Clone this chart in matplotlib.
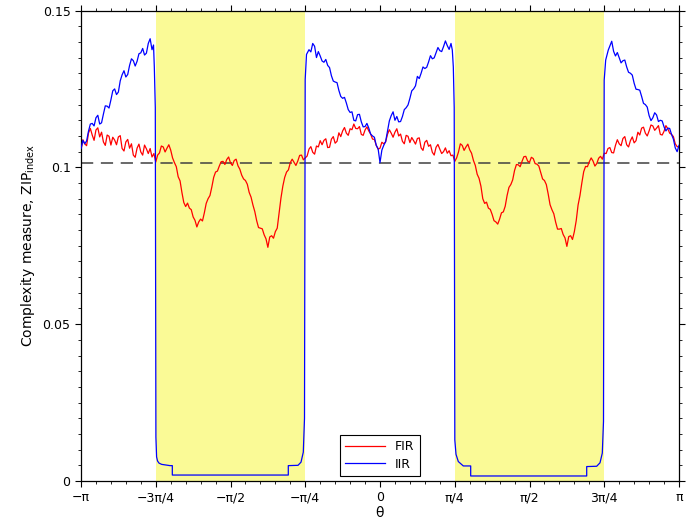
import matplotlib
matplotlib.use("Agg")
import matplotlib.pyplot as plt
from matplotlib.ticker import MultipleLocator
import numpy as np

# theta is stored in units of pi, values in units of 1e-3
theta_fine = np.linspace(-1, 1, 321)

# FIR at theta = -1 + k/80
fir_main = [
    105.5, 107.5, 110.9, 110.3, 111.9, 109.7, 108.1, 110.3, 107.1, 108.7,
    109.7, 106.0, 108.1, 106.1, 103.9, 106.1, 104.9, 107.1, 104.4, 103.3,
    101.7, 104.6, 106.5, 106.1, 105.5, 101.5, 97.0, 92.0, 87.5, 87.0,
    84.2, 81.0, 83.5, 85.5, 90.0, 93.7, 98.5, 100.4, 101.9, 102.5,
    101.4, 102.2, 100.5, 97.5, 95.8, 92.0, 88.0, 83.0, 80.6, 78.5,
    74.5, 78.2, 79.5, 85.5, 94.0, 98.5, 101.5, 101.6, 102.0, 103.9,
    103.0, 105.8, 104.8, 106.8, 108.5, 108.6, 106.3, 109.0, 107.7, 111.0,
    111.6, 110.9, 112.3, 113.8, 112.3, 110.5, 111.9, 111.6, 109.0, 107.0,
    106.1,
    107.5, 110.5, 110.9, 111.2, 110.0, 108.3, 110.2, 107.9, 108.5, 109.2,
    106.2, 108.0, 106.7, 104.8, 106.4, 105.8, 105.0, 104.5, 103.7, 101.9,
    104.9, 107.0, 106.5, 105.6, 102.2, 97.8, 94.0, 88.5, 87.0, 85.0,
    82.6, 83.5, 85.8, 91.0, 94.5, 99.0, 100.8, 101.9, 103.5, 101.6,
    102.8, 101.0, 98.3, 95.8, 91.5, 86.5, 82.5, 80.3, 78.6, 74.8,
    78.2, 79.5, 88.0, 95.0, 100.3, 101.8, 102.0, 101.2, 103.5, 104.5,
    106.0, 104.7, 107.0, 107.5, 109.2, 107.2, 108.5, 107.8, 111.2, 112.5,
    110.9, 111.6, 113.2, 112.5, 110.5, 111.5, 112.3, 110.5, 107.5, 106.5,
]
# FIR half way between those points (noise)
fir_half = [
    108.8, 106.9, 112.4, 108.6, 112.6, 111.2, 107.0, 109.9, 109.6, 107.2,
    110.1, 105.2, 108.9, 107.5, 103.2, 107.4, 103.9, 105.9, 106.0, 104.4,
    103.9, 106.8, 104.9, 107.2, 103.0, 100.2, 95.7, 88.8, 88.6, 86.5,
    83.1, 82.6, 82.9, 88.5, 91.0, 96.8, 98.8, 101.8, 100.9, 103.3,
    100.6, 102.6, 99.4, 96.3, 94.6, 90.5, 85.9, 80.8, 80.4, 77.2,
    77.8, 77.4, 80.6, 90.2, 96.8, 99.2, 102.6, 100.6, 103.8, 102.4,
    103.6, 106.6, 104.2, 106.5, 107.2, 109.1, 106.4, 109.8, 108.3, 109.8,
    112.7, 110.2, 112.0, 112.4, 113.0, 110.2, 112.9, 110.6, 108.9, 105.8,
    108.0, 108.1, 112.0, 109.6, 112.3, 110.6, 107.5, 109.9, 109.5, 107.4,
    109.4, 105.4, 108.6, 107.2, 103.9, 107.3, 104.4, 106.2, 105.3, 103.9,
    103.0, 107.5, 105.4, 107.4, 104.5, 100.6, 96.5, 90.0, 88.9, 86.6,
    83.0, 81.9, 85.5, 87.6, 93.6, 96.0, 100.9, 100.2, 103.4, 102.0,
    103.2, 101.2, 100.4, 96.3, 94.5, 88.1, 85.2, 80.3, 80.5, 77.5,
    77.9, 77.0, 83.0, 91.0, 98.6, 100.2, 103.0, 100.4, 102.9, 102.6,
    104.4, 106.3, 104.6, 108.8, 106.9, 109.8, 106.5, 109.7, 108.5, 110.3,
    112.8, 110.0, 113.5, 111.8, 113.3, 110.3, 113.3, 110.9, 109.8, 106.6,
]

# IIR outside the shaded bands, same grid (main points and half-way points)
iir_left_main = [
    106.0, 107.5, 111.5, 114.0, 115.8, 113.8, 117.0, 119.5, 121.5, 125.0,
    124.0, 129.5, 128.8, 132.5, 134.0, 133.8, 136.5, 135.8, 139.5, 137.5,
]
iir_left_half = [
    108.6, 108.4, 113.8, 113.2, 116.6, 114.2, 119.6, 118.9, 124.4, 123.2,
    127.6, 130.8, 129.6, 134.6, 132.3, 136.2, 137.9, 136.4, 141.0,
]
iir_mid_main = [
    137.5, 139.5, 135.0, 135.5, 133.5, 132.5, 129.2, 127.2, 124.5, 122.0,
    120.5, 117.5, 115.0, 116.8, 114.5, 113.0, 112.5, 110.0, 107.0, 101.5,
    107.0, 111.5, 116.5, 115.0, 114.5, 116.2, 119.0, 122.0, 125.0, 129.0,
    130.0, 131.5, 133.6, 134.6, 136.6, 137.2, 138.5, 138.8, 139.5,
]
iir_mid_half = [
    136.8, 138.6, 136.9, 133.9, 134.4, 131.8, 127.5, 127.0, 122.6, 122.3,
    118.4, 117.7, 114.8, 116.9, 112.9, 114.0, 110.6, 109.6, 105.9, 105.5,
    108.2, 114.8, 117.7, 116.2, 114.6, 118.4, 119.9, 124.4, 126.0, 128.3,
    132.0, 131.9, 135.6, 134.9, 138.2, 136.9, 140.3, 137.6,
]
iir_right_main = [
    140.2, 135.5, 135.0, 134.0, 132.0, 130.0, 126.8, 124.8, 122.6, 120.0,
    116.5, 115.8, 116.7, 115.0, 112.9, 112.5, 110.5, 106.2, 107.0,
]
iir_right_half = [
    137.0, 136.6, 133.3, 134.2, 130.3, 129.4, 124.9, 124.6, 120.4, 119.2,
    114.9, 117.4, 114.6, 114.8, 111.6, 112.4, 109.0, 105.0,
]

# IIR inside the shaded bands
well1_theta = [
    -0.7575, -0.7548, -0.7515, -0.7495, -0.7472, -0.7441, -0.7391, -0.7301,
    -0.7023, -0.6946, -0.6946, -0.3067, -0.3067, -0.2742, -0.2642, -0.2565,
    -0.2525, -0.2502, -0.2458,
]
well1_value = [
    139.0, 132.0, 119.0, 14.0, 7.7, 6.4, 5.7, 5.3,
    4.9, 4.9, 1.9, 1.9, 4.9, 5.0, 6.0, 9.2,
    20.0, 128.0, 136.0,
]
well2_theta = [
    0.2418, 0.2452, 0.2482, 0.2502, 0.2542, 0.2619, 0.2786, 0.3033,
    0.3033, 0.6913, 0.6913, 0.7247, 0.7358, 0.7435, 0.7475, 0.7498,
    0.7548, 0.7635,
]
well2_value = [
    137.4, 132.0, 119.0, 13.1, 8.5, 6.2, 4.8, 4.8,
    1.6, 1.6, 4.6, 4.7, 5.8, 8.9, 19.0, 127.8,
    134.2, 137.4,
]

threshold = 0.1014
bands = [(-0.75, -0.25), (0.25, 0.75)]


def interleave(main, half):
    out = np.empty(len(main) + len(half))
    out[0::2] = main
    out[1::2] = half
    return out


fir = interleave(fir_main, fir_half)
iir_theta = np.concatenate([theta_fine[0:39], well1_theta, theta_fine[122:199],
                            well2_theta, theta_fine[284:321]])
iir = np.concatenate([interleave(iir_left_main, iir_left_half), well1_value,
                      interleave(iir_mid_main, iir_mid_half), well2_value,
                      interleave(iir_right_main, iir_right_half)])

fig = plt.figure(figsize=(7, 5.28), dpi=100)
ax = fig.add_axes([81 / 700, 47 / 528, 598 / 700, 470.5 / 528])

for a, b in bands:
    ax.axvspan(a * np.pi, b * np.pi, color="#fafa96", lw=0, zorder=0)

ax.axhline(threshold, color="#404040", lw=1.1, ls=(0, (8, 5)), zorder=1)
ax.plot(theta_fine * np.pi, fir / 1000, color="#ff0000", lw=0.9, label="FIR", zorder=2)
ax.plot(iir_theta * np.pi, iir / 1000, color="#0000ff", lw=0.9, label="IIR", zorder=3)

ax.set_xlim(-np.pi, np.pi)
ax.set_ylim(0, 0.15)

ax.set_xticks(np.arange(-4, 5) * np.pi / 4)
ax.set_xticklabels(["\u2212\u03c0", "\u22123\u03c0/4", "\u2212\u03c0/2", "\u2212\u03c0/4", "0",
                    "\u03c0/4", "\u03c0/2", "3\u03c0/4", "\u03c0"])
ax.xaxis.set_minor_locator(MultipleLocator(np.pi / 20))
ax.set_yticks([0, 0.05, 0.1, 0.15])
ax.set_yticklabels(["0", "0.05", "0.1", "0.15"])
ax.yaxis.set_minor_locator(MultipleLocator(0.005))

ax.tick_params(which="both", direction="out", top=True, right=True, labelsize=9, color="black")
ax.tick_params(which="major", length=4, width=0.8)
ax.tick_params(which="minor", length=2.5, width=0.6)
for s in ax.spines.values():
    s.set_linewidth(0.9)

ax.set_xlabel("\u03b8", fontsize=10, labelpad=1)
ax.set_ylabel(r"Complexity measure, ZIP$_{\mathrm{index}}$", fontsize=10, labelpad=4)

leg = ax.legend(loc="lower center", bbox_to_anchor=(0.5, 0.01), fontsize=9,
                handlelength=3.2, fancybox=False, framealpha=1, edgecolor="black",
                borderpad=0.45, labelspacing=0.35, borderaxespad=0)
leg.get_frame().set_linewidth(0.8)

fig.savefig("out.png", dpi=100, facecolor="white")
